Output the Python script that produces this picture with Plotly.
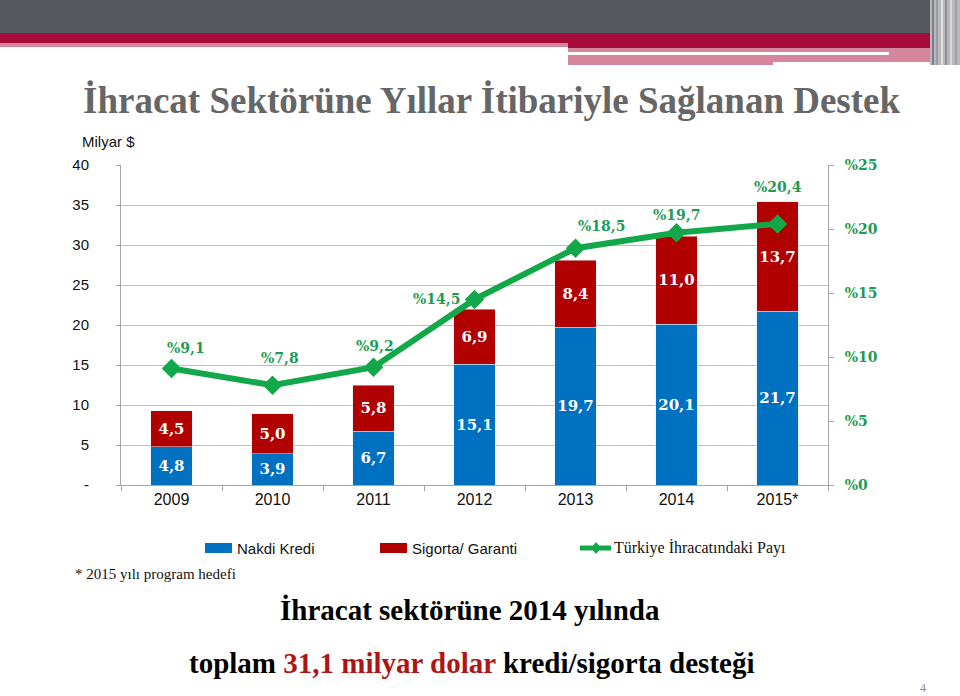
import plotly.graph_objects as go

# ---------------- data ----------------
years = ["2009", "2010", "2011", "2012", "2013", "2014", "2015*"]
nakdi_kredi = [4.8, 3.9, 6.7, 15.1, 19.7, 20.1, 21.7]
sigorta_garanti = [4.5, 5.0, 5.8, 6.9, 8.4, 11.0, 13.7]
ihracat_payi = [9.1, 7.8, 9.2, 14.5, 18.5, 19.7, 20.4]
left_ticks = [0, 5, 10, 15, 20, 25, 30, 35, 40]
left_ticktext = ["-", "5", "10", "15", "20", "25", "30", "35", "40"]
right_ticks = [0, 5, 10, 15, 20, 25]
right_ticktext = ["%0", "%5", "%10", "%15", "%20", "%25"]

# label offsets (pixels) for the share labels
pay_xshift = [14, 7, 1, -38, 26, 0, 0]
pay_yshift = [21, 27, 21, 0, 22, 18, 37]

BLUE = "#0070C0"
RED = "#B00000"
GREEN = "#12A84A"
GREEN_TXT = "#1E9B52"

def fmt(v):
    return f"{v:.1f}".replace(".", ",")

# plot area in pixels
L, R, T, B = 121, 828, 165, 485
W, H = 960, 696

def px(x):
    return (x - L) / (R - L)

def py(y):
    return (B - y) / (B - T)

fig = go.Figure()
fig.add_trace(go.Bar(
    x=years, y=nakdi_kredi, name="Nakdi Kredi", marker_color=BLUE,
    text=[fmt(v) for v in nakdi_kredi], textposition="inside",
    insidetextanchor="middle", textangle=0, constraintext="none",
    textfont=dict(family="DejaVu Serif", size=15, color="white", weight="bold"),
    showlegend=False,
))
fig.add_trace(go.Bar(
    x=years, y=sigorta_garanti, name="Sigorta/ Garanti", marker_color=RED,
    text=[fmt(v) for v in sigorta_garanti], textposition="inside",
    insidetextanchor="middle", textangle=0, constraintext="none",
    textfont=dict(family="DejaVu Serif", size=15, color="white", weight="bold"),
    showlegend=False,
))
fig.add_trace(go.Scatter(
    x=years, y=ihracat_payi, yaxis="y2", mode="lines+markers",
    name="Türkiye İhracatındaki Payı",
    line=dict(color=GREEN, width=6),
    marker=dict(symbol="diamond", size=15, color=GREEN),
    showlegend=False,
))

annotations = []
for i, (v, dx, dy) in enumerate(zip(ihracat_payi, pay_xshift, pay_yshift)):
    annotations.append(dict(
        x=i, y=v, xref="x", yref="y2", text=f"%{fmt(v)}", showarrow=False,
        xshift=dx, yshift=dy,
        font=dict(family="DejaVu Serif", size=14, color=GREEN_TXT, weight="bold"),
    ))

# texts outside plot
def text(x, y, s, size, family, color="#000", bold=False, xanchor="center"):
    annotations.append(dict(
        x=px(x), y=py(y), xref="paper", yref="paper", text=s, showarrow=False,
        xanchor=xanchor, yanchor="middle",
        font=dict(family=family, size=size, color=color, weight="bold" if bold else "normal"),
    ))

text(492, 100, "İhracat Sektörüne Yıllar İtibariyle Sağlanan Destek", 37,
     "Liberation Serif", "#666666", bold=True)
text(80, 141, "Milyar $", 15, "Liberation Sans", "#111", xanchor="left")
text(235, 548, "Nakdi Kredi", 15, "Liberation Sans", "#111", xanchor="left")
text(410, 548, "Sigorta/ Garanti", 15, "Liberation Sans", "#111", xanchor="left")
text(612, 548, "Türkiye İhracatındaki Payı", 16, "Liberation Serif", "#111", xanchor="left")
text(73, 574, "* 2015 yılı program hedefi", 15, "Liberation Serif", "#111", xanchor="left")
text(470, 610, "<b>İhracat sektörüne 2014 yılında</b>", 29, "Liberation Serif", "#000")
text(472, 663, "<b>toplam <span style='color:#B01515'>31,1 milyar dolar</span> kredi/sigorta desteği</b>",
     29, "Liberation Serif", "#000")
text(923, 688, "4", 12, "Liberation Serif", "#888")

shapes = []
def rect(x0, y0, x1, y1, color):
    shapes.append(dict(type="rect", xref="paper", yref="paper",
                       x0=px(x0), x1=px(x1), y0=py(y1), y1=py(y0),
                       fillcolor=color, line=dict(width=0), layer="above"))

# header bands
rect(0, 0, 960, 33, "#54575C")
rect(0, 33, 935, 43, "#A50B3B")
rect(0, 43, 568, 47, "#D5869C")
rect(568, 43, 935, 48, "#A50B3B")
rect(568, 48, 935, 62, "#D5869C")
rect(568, 52, 889, 55, "#FFFFFF")
rect(568, 62, 773, 65, "#D5869C")
# vertical stripes at right of header
for x0, x1, c in [(930, 960, "#B8B8BA"), (932, 934, "#7C7E82"), (936, 938, "#9A9CA0"),
                  (941, 943, "#E0E0E0"), (945, 947, "#8E9094"), (950, 952, "#D8D8D8"),
                  (955, 957, "#A0A2A6")]:
    rect(x0, 0, x1, 65, c)
# legend swatches
rect(205, 543, 232, 553, BLUE)
rect(380, 543, 407, 553, RED)
shapes.append(dict(type="line", xref="paper", yref="paper", x0=px(580), x1=px(611),
                   y0=py(548), y1=py(548), line=dict(color=GREEN, width=5)))
shapes.append(dict(type="path", xref="paper", yref="paper",
                   path=f"M {px(596)} {py(542)} L {px(601)} {py(548)} L {px(596)} {py(554)} L {px(591)} {py(548)} Z",
                   fillcolor=GREEN, line=dict(width=0)))

fig.update_layout(
    width=W, height=H,
    margin=dict(l=L, r=W - R, t=T, b=H - B),
    paper_bgcolor="white", plot_bgcolor="white",
    barmode="stack", bargap=0.59,
    showlegend=False,
    xaxis=dict(
        type="category", range=[-0.5, 6.5], showgrid=False, showline=True, linecolor="#A6A6A6",
        ticks="outside", tickson="boundaries", ticklen=5, tickcolor="#A6A6A6",
        tickfont=dict(family="Liberation Sans", size=16, color="#111"),
    ),
    yaxis=dict(
        range=[0, 40], tickvals=left_ticks, ticktext=left_ticktext,
        showgrid=True, gridcolor="#BFBFBF", gridwidth=1,
        showline=True, linecolor="#A6A6A6", ticks="outside", ticklen=4,
        tickcolor="#A6A6A6", ticklabelstandoff=24, zeroline=False,
        tickfont=dict(family="Liberation Sans", size=15, color="#111"),
    ),
    yaxis2=dict(
        range=[0, 25], tickvals=right_ticks, ticktext=right_ticktext,
        overlaying="y", side="right", showgrid=False, zeroline=False,
        showline=True, linecolor="#A6A6A6", ticks="outside", ticklen=5,
        tickcolor="#A6A6A6", ticklabelstandoff=8,
        tickfont=dict(family="DejaVu Serif", size=14, color=GREEN_TXT, weight="bold"),
    ),
    annotations=annotations,
    shapes=shapes,
)

fig.write_html("out.html")
